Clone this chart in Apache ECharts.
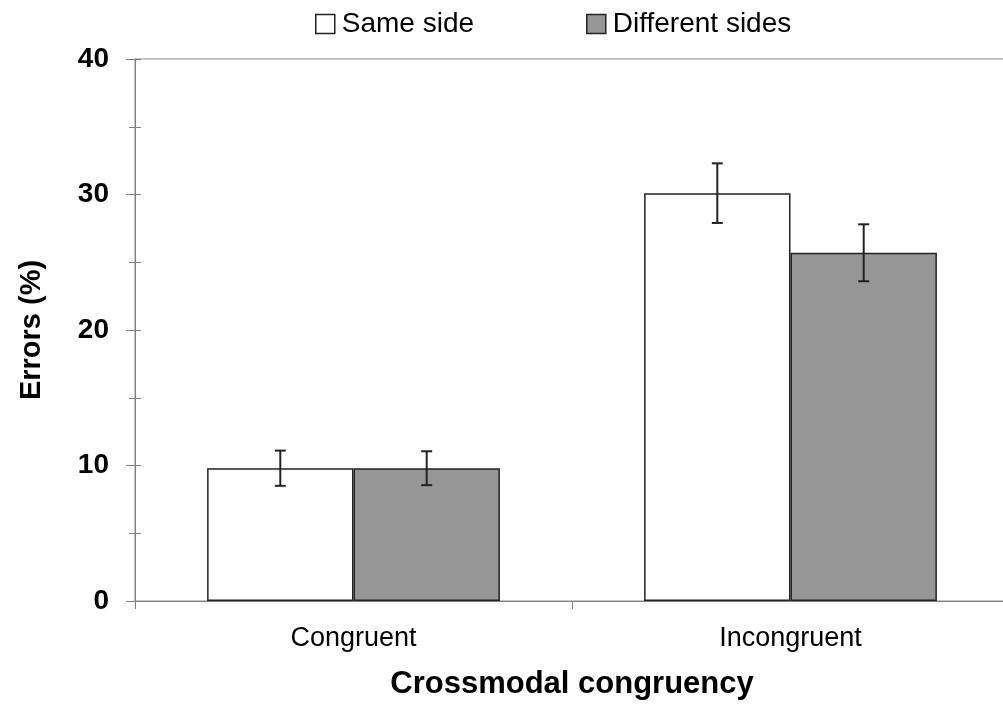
<!DOCTYPE html>
<html>
<head>
<meta charset="utf-8">
<script src="https://cdn.jsdelivr.net/npm/echarts@6/dist/echarts.min.js"></script>
<style>html,body{margin:0;padding:0;background:#fff}#c{width:1003px;height:704px}</style>
</head>
<body>
<div id="c"></div>
<script>
var categories = ['Congruent', 'Incongruent'];
var seriesNames = ['Same side', 'Different sides'];
var sameSide = [9.8, 30.1];
var sameSideErr = [1.3, 2.2];
var diffSides = [9.8, 25.7];
var diffSidesErr = [1.25, 2.1];
var yTicks = [0, 10, 20, 30, 40];

var FONT = 'Liberation Sans, Arial, sans-serif';
var GAP = 0.33;

function errSeries(vals, errs, sideIdx) {
  var data = vals.map(function (v, i) { return [i, v - errs[i], v + errs[i]]; });
  return {
    type: 'custom',
    silent: true,
    z: 10,
    data: data,
    renderItem: function (params, api) {
      var i = api.value(0);
      var lo = api.coord([i, api.value(1)]);
      var hi = api.coord([i, api.value(2)]);
      var band = api.size([1, 0])[0];
      var bw = band * (1 - GAP) / 2;
      var x = lo[0] + (sideIdx === 0 ? -bw / 2 : bw / 2);
      var cap = 5.5;
      var st = { stroke: '#222', lineWidth: 2 };
      return {
        type: 'group',
        children: [
          { type: 'line', shape: { x1: x, y1: lo[1], x2: x, y2: hi[1] }, style: st },
          { type: 'line', shape: { x1: x - cap, y1: lo[1], x2: x + cap, y2: lo[1] }, style: st },
          { type: 'line', shape: { x1: x - cap, y1: hi[1], x2: x + cap, y2: hi[1] }, style: st }
        ]
      };
    }
  };
}

var chart = echarts.init(document.getElementById('c'));
chart.setOption({
  animation: false,
  backgroundColor: '#fff',
  legend: {
    top: 5,
    left: 310,
    itemWidth: 19,
    itemHeight: 19,
    itemGap: 112,
    textStyle: { fontFamily: FONT, fontSize: 28, color: '#000', padding: [0, 0, 0, 2] },
    data: [
      { name: seriesNames[0], icon: 'rect', itemStyle: { color: '#fff', borderColor: '#222', borderWidth: 1.5 } },
      { name: seriesNames[1], icon: 'rect', itemStyle: { color: '#969696', borderColor: '#222', borderWidth: 1.5 } }
    ]
  },
  grid: {
    left: 135, top: 59, width: 874, height: 542,
    outerBoundsMode: 'none',
    containLabel: false,
    show: true, borderColor: '#888', borderWidth: 1, backgroundColor: 'transparent'
  },
  xAxis: {
    type: 'category',
    data: categories,
    name: 'Crossmodal congruency',
    nameLocation: 'middle',
    nameGap: 68,
    nameTextStyle: { fontFamily: FONT, fontSize: 31, fontWeight: 'bold', color: '#000' },
    axisLine: { lineStyle: { color: '#808080', width: 1 } },
    axisTick: { show: true, length: 8, alignWithLabel: false, lineStyle: { color: '#808080' } },
    axisLabel: { fontFamily: FONT, fontSize: 27, color: '#000', margin: 24 }
  },
  yAxis: [{
    type: 'value',
    min: 0, max: 40, interval: 10,
    name: 'Errors (%)',
    nameLocation: 'middle',
    nameGap: 89,
    nameTextStyle: { fontFamily: FONT, fontSize: 29, fontWeight: 'bold', color: '#000' },
    axisLine: { show: true, lineStyle: { color: '#808080', width: 1 } },
    axisTick: { show: true, length: 9, lineStyle: { color: '#808080' } },
    minorTick: { show: true, splitNumber: 2, length: 6, lineStyle: { color: '#808080' } },
    splitLine: { show: false },
    axisLabel: {
      fontFamily: FONT, fontSize: 28, fontWeight: 'bold', color: '#000', margin: 26,
      formatter: function (v) { return yTicks.indexOf(v) >= 0 ? String(v) : ''; }
    }
  }, {
    type: 'value',
    position: 'left',
    min: 0, max: 40, interval: 10,
    axisLine: { show: false },
    axisTick: { show: true, inside: true, length: 6, lineStyle: { color: '#808080' } },
    minorTick: { show: true, splitNumber: 2, length: 6, lineStyle: { color: '#808080' } },
    splitLine: { show: false },
    axisLabel: { show: false }
  }],
  series: [
    {
      name: seriesNames[0], type: 'bar', data: sameSide,
      barGap: '0%', barCategoryGap: (GAP * 100) + '%',
      itemStyle: { color: '#fff', borderColor: '#222', borderWidth: 1.5 }
    },
    {
      name: seriesNames[1], type: 'bar', data: diffSides,
      barGap: '0%', barCategoryGap: (GAP * 100) + '%',
      itemStyle: { color: '#969696', borderColor: '#222', borderWidth: 1.5 }
    },
    errSeries(sameSide, sameSideErr, 0),
    errSeries(diffSides, diffSidesErr, 1)
  ]
});
</script>
</body>
</html>
